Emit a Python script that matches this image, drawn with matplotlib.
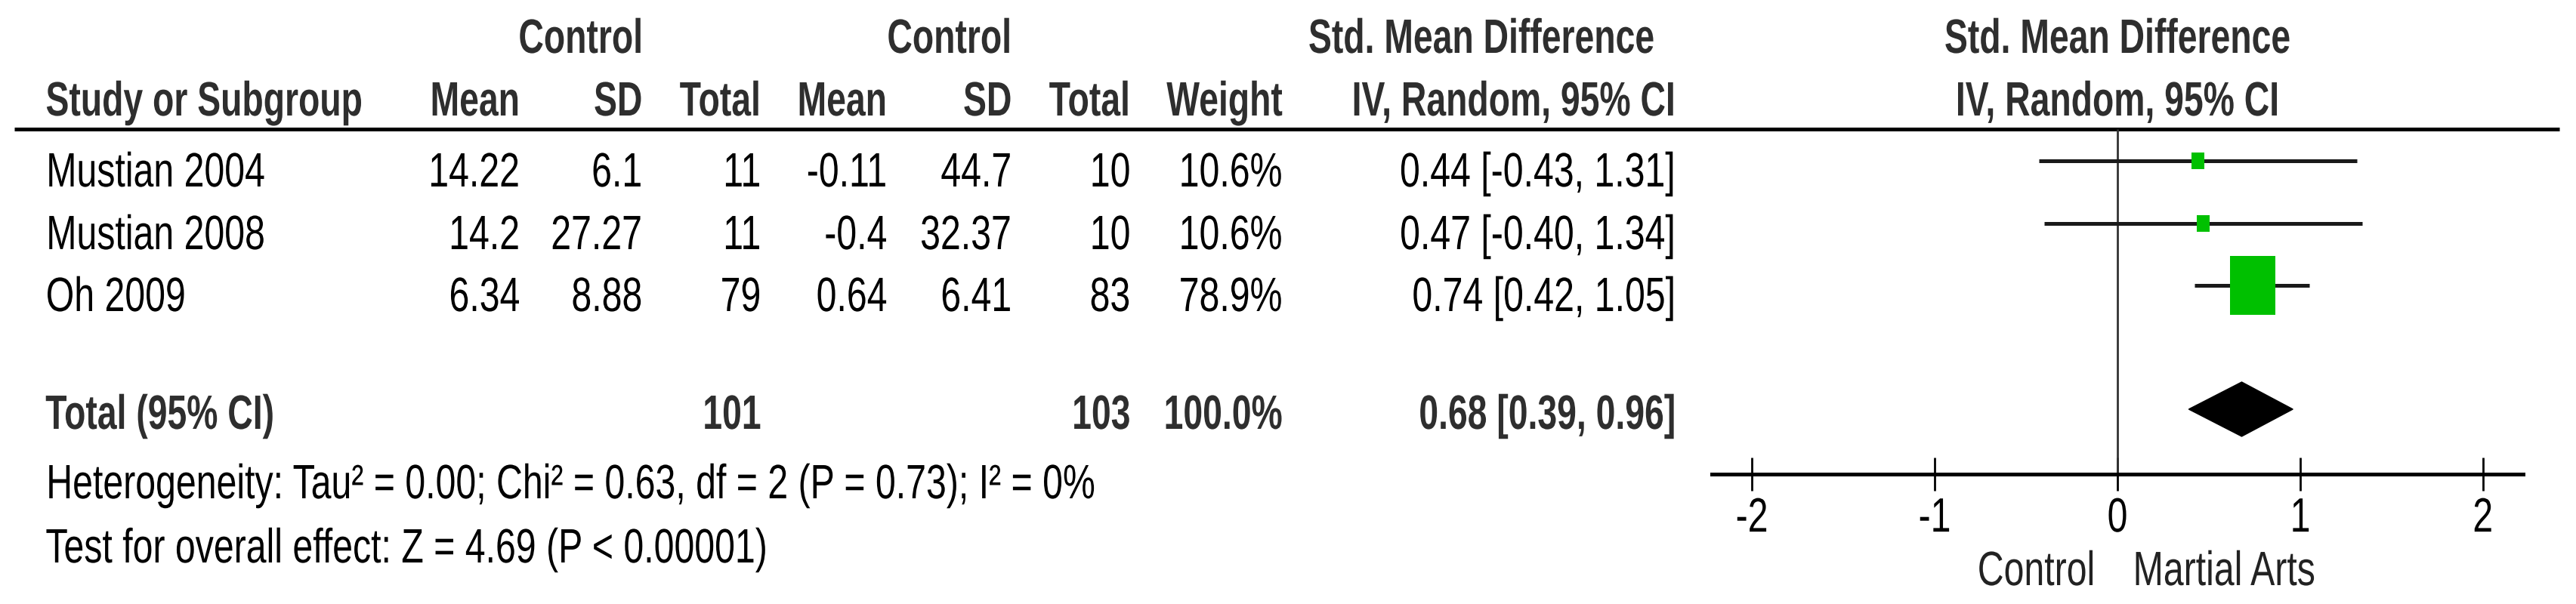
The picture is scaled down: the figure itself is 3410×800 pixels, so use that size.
import numpy as np
import matplotlib
matplotlib.use("Agg")
import matplotlib.pyplot as plt
from matplotlib.patches import Rectangle, Polygon
from matplotlib.patheffects import AbstractPathEffect
from matplotlib.transforms import Affine2D, Bbox

# --- data ---
studies = ["Mustian 2004", "Mustian 2008", "Oh 2009"]
exp_mean = [14.22, 14.2, 6.34]
exp_sd = [6.1, 27.27, 8.88]
exp_n = [11, 11, 79]
ctl_mean = [-0.11, -0.4, 0.64]
ctl_sd = [44.7, 32.37, 6.41]
ctl_n = [10, 10, 83]
weights = [10.6, 10.6, 78.9]
smd = [0.44, 0.47, 0.74]
ci_lo = [-0.43, -0.40, 0.42]
ci_hi = [1.31, 1.34, 1.05]

total_label = "Total (95% CI)"
total_exp_n = 101
total_ctl_n = 103
total_weight = 100.0
total_smd = 0.68
total_lo = 0.39
total_hi = 0.96

heterogeneity = "Heterogeneity: Tau² = 0.00; Chi² = 0.63, df = 2 (P = 0.73); I² = 0%"
overall = "Test for overall effect: Z = 4.69 (P < 0.00001)"

xticks = [-2, -1, 0, 1, 2]
favours = ["Control", "Martial Arts"]

# --- layout (pixels) ---
W, H = 3410, 800
FS = 46
SQ = 0.755         # source font is a narrow one -> squeeze glyphs horizontally
SQ_BOLD = 0.725
HEAD_C = "#2e2e2e"
GREEN = "#00c000"

plt.rcParams["font.family"] = ["Liberation Sans", "DejaVu Sans"]
plt.rcParams["axes.unicode_minus"] = False


class Squeeze(AbstractPathEffect):
    """draw text path narrower, keeping the aligned edge fixed"""
    def __init__(self, sx, ha):
        super().__init__()
        self.sx, self.ha = sx, ha

    def draw_path(self, renderer, gc, tpath, affine, rgbFace=None):
        ext = tpath.get_extents(affine)
        x0 = {"left": ext.x0, "right": ext.x1, "center": 0.5 * (ext.x0 + ext.x1)}[self.ha]
        aff = affine + Affine2D().translate(-x0, 0).scale(self.sx, 1).translate(x0, 0)
        renderer.draw_path(gc, tpath, aff, rgbFace)


def squeeze(t, sx, ha):
    t.set_path_effects([Squeeze(sx, ha)])
    base = t.get_window_extent

    # report the narrowed box too, so extents match what is drawn
    def extent(renderer=None, dpi=None):
        bb = base(renderer, dpi)
        w = bb.width * sx
        if ha == "left":
            x0 = bb.x0
        elif ha == "right":
            x0 = bb.x1 - w
        else:
            x0 = bb.x0 + (bb.width - w) / 2
        return Bbox.from_bounds(x0, bb.y0, w, bb.height)
    t.get_window_extent = extent
    return t


def put(axis, x, y, s, ha="left", bold=False, color="black"):
    t = axis.text(x, y, s, fontsize=FS, fontweight="bold" if bold else "normal",
                  color=color, ha=ha, va="baseline")
    return squeeze(t, SQ_BOLD if bold else SQ, ha)


fig = plt.figure(figsize=(W / 100, H / 100), dpi=100)
tab = fig.add_axes([0, 0, 1, 1])
tab.set_xlim(0, W)
tab.set_ylim(H, 0)
tab.axis("off")

# column right edges
x_name = 60
x_cols = [689, 851, 1008, 1175, 1340, 1497, 1698, 2219]
row_base = [247, 330, 412]
total_base = 568

# headers
put(tab, 769, 70, "Control", "center", True, HEAD_C)
put(tab, 1257, 70, "Control", "center", True, HEAD_C)
put(tab, 1961, 70, "Std. Mean Difference", "center", True, HEAD_C)
put(tab, 2803, 70, "Std. Mean Difference", "center", True, HEAD_C)
put(tab, 2803, 153, "IV, Random, 95% CI", "center", True, HEAD_C)

put(tab, x_name, 153, "Study or Subgroup", "left", True, HEAD_C)
col_heads = ["Mean", "SD", "Total", "Mean", "SD", "Total", "Weight", "IV, Random, 95% CI"]
for x, h in zip(x_cols, col_heads):
    put(tab, x, 153, h, "right", True, HEAD_C)

tab.plot([19, 3388], [171, 171], color="black", lw=3.6, solid_capstyle="butt")

# study rows
for i, name in enumerate(studies):
    y = row_base[i]
    vals = [str(exp_mean[i]), str(exp_sd[i]), str(exp_n[i]),
            str(ctl_mean[i]), str(ctl_sd[i]), str(ctl_n[i]),
            f"{weights[i]:.1f}%",
            f"{smd[i]:.2f} [{ci_lo[i]:.2f}, {ci_hi[i]:.2f}]"]
    put(tab, x_name, y, name)
    for x, v in zip(x_cols, vals):
        put(tab, x, y, v, "right")

# total row
put(tab, x_name, total_base, total_label, "left", True, HEAD_C)
put(tab, x_cols[2], total_base, str(total_exp_n), "right", True, HEAD_C)
put(tab, x_cols[5], total_base, str(total_ctl_n), "right", True, HEAD_C)
put(tab, x_cols[6], total_base, f"{total_weight:.1f}%", "right", True, HEAD_C)
put(tab, x_cols[7], total_base, f"{total_smd:.2f} [{total_lo:.2f}, {total_hi:.2f}]", "right", True, HEAD_C)

put(tab, x_name, 660, heterogeneity)
put(tab, x_name, 745, overall)

# --- forest panel: x in SMD units, y in pixels ---
ax = fig.add_axes([2266 / W, 0, 1074 / W, 1])
ax.set_xlim(-2.22, 2.22)
ax.set_ylim(H, 0)
ax.patch.set_alpha(0)
for s in ["top", "left", "right"]:
    ax.spines[s].set_visible(False)
ax.spines["bottom"].set_position(("data", 628))
ax.spines["bottom"].set_linewidth(3.6)
ax.set_yticks([])
ax.set_xticks(xticks)
ax.set_xticklabels([str(t) for t in xticks])
ax.tick_params(axis="x", direction="inout", length=32, width=2, pad=5, labelsize=FS)
for lab in ax.get_xticklabels():
    squeeze(lab, SQ, "center")

ax.vlines(0, 171, 628, color="#333333", lw=2)

px_per_unit = 1074 / 4.44
mark_y = [b - 34 for b in row_base]
for i in range(len(studies)):
    y = mark_y[i]
    ax.plot([ci_lo[i], ci_hi[i]], [y, y], color="#1a1a1a", lw=3.6, solid_capstyle="butt")
    hpx = 78 * (weights[i] / max(weights)) ** 0.65
    wdat = hpx * 0.78 / px_per_unit
    ax.add_patch(Rectangle((smd[i] - wdat / 2, y - hpx / 2), wdat, hpx,
                           facecolor=GREEN, edgecolor="none", zorder=3))

dy = 542
ax.add_patch(Polygon([(total_lo, dy), (total_smd, dy - 36), (total_hi, dy), (total_smd, dy + 36)],
                     closed=True, facecolor="black", edgecolor="black", zorder=3))

put(ax, -0.12, 775, favours[0], "right", color="#222222")
put(ax, 0.08, 775, favours[1], "left", color="#222222")

fig.savefig("out.png", dpi=100)
